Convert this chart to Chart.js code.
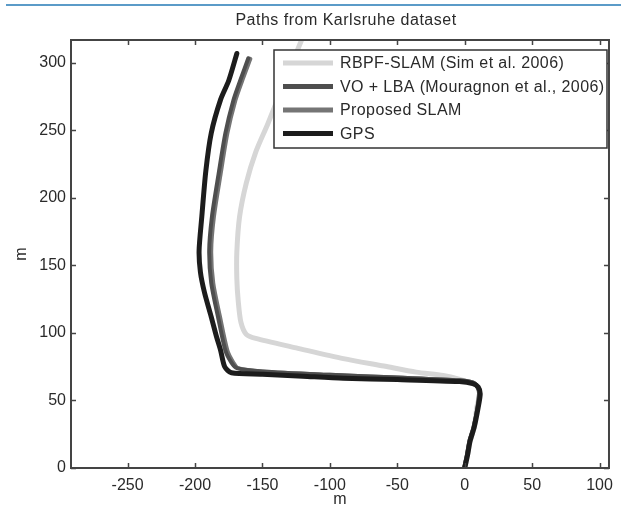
<!DOCTYPE html>
<html>
<head>
<meta charset="utf-8">
<script src="https://cdn.jsdelivr.net/npm/chart.js@4/dist/chart.umd.min.js"></script>
<style>
  html, body { margin: 0; padding: 0; background: #fff; }
  canvas { display: block; }
</style>
</head>
<body>
<canvas id="chart" width="621" height="511"></canvas>
<script>
// path samples (metres)
const gpsX = [-169, -175, -181, -188, -192, -195, -197, -196, -193, -188, -184, -181, -178, -173, -150, -120, -90, -50, -4, 6, 10, 11.5, 10, 7, 4, 2, 0];
const gpsY = [307, 287, 273, 248, 220, 186, 161, 145, 130, 112, 97, 87, 75, 70.5, 69.5, 68, 66.5, 65.5, 64, 62.5, 60, 55, 45, 30, 20, 9, 0];

const voX = [-160.5, -166.5, -171.5, -177.5, -182.5, -187.5, -189.5, -188, -183, -177.5, -173, -169, -150, -100, -50, -4, 7, 10.5, 9.5, 6.5, 3.5, 1.5, -0.5];
const voY = [303.5, 287, 272.5, 248, 218, 186, 161, 137, 112, 87, 78, 74, 71.5, 69, 67, 65, 63, 57, 45, 30, 20, 9, 0];

const slamX = [-159, -165, -170, -176, -181, -186, -188, -186.5, -181.5, -176, -171.5, -168, -150, -100, -50, -4, 7, 10.5, 9.5, 6.5, 3.5, 1.5, -0.5];
const slamY = [303, 287, 272.5, 248, 218, 186, 161, 137, 112, 87, 78, 74, 71.5, 69, 67, 65, 63, 57, 45, 30, 20, 9, 0];

const rbpfX = [0, 2, 4, 7, 9, 11, 9, -5, -16, -36, -60, -90, -125, -155, -162, -166, -168, -169, -169, -167, -162, -155, -146, -134, -121, -117];
const rbpfY = [0, 9, 20, 30, 45, 55, 61, 66, 68.5, 71, 75.5, 81, 89, 96, 99, 108, 124, 140, 160, 186, 211, 234, 255, 285, 317, 327];

const seriesNames = ["RBPF-SLAM (Sim et al. 2006)", "VO + LBA (Mouragnon et al., 2006)", "Proposed SLAM", "GPS"];
const seriesColors = ["#d6d6d6", "#4e4e4e", "#757575", "#1c1c1c"];

const xTicks = [-250, -200, -150, -100, -50, 0, 50, 100];
const yTicks = [0, 50, 100, 150, 200, 250, 300];

const FONT = "'Liberation Sans', Arial, Helvetica, sans-serif";
const TEXT = "#2a2a2a";

function pts(xs, ys) {
  return xs.map((x, i) => ({ x, y: ys[i] }));
}

function line(i, xs, ys, width, order) {
  return {
    label: seriesNames[i],
    data: pts(xs, ys),
    showLine: true,
    borderColor: seriesColors[i],
    backgroundColor: seriesColors[i],
    borderWidth: width,
    pointRadius: 0,
    pointHoverRadius: 0,
    tension: 0.25,
    borderJoinStyle: "round",
    borderCapStyle: "round",
    order,
  };
}

const decor = {
  id: "decor",
  afterDraw(chart) {
    const { ctx, chartArea: a, scales } = chart;
    const x = scales.x, y = scales.y;
    ctx.save();

    // blue rule at the top of the page
    ctx.strokeStyle = "#5b9bc8";
    ctx.lineWidth = 2;
    ctx.beginPath();
    ctx.moveTo(6, 5);
    ctx.lineTo(621, 5);
    ctx.stroke();

    // axes box with inward ticks
    ctx.strokeStyle = "#444";
    ctx.lineWidth = 2;
    ctx.strokeRect(a.left, a.top, a.right - a.left, a.bottom - a.top);
    ctx.lineWidth = 1.5;
    ctx.beginPath();
    xTicks.forEach((v) => {
      const px = Math.round(x.getPixelForValue(v)) + 0.5;
      ctx.moveTo(px, a.bottom);
      ctx.lineTo(px, a.bottom - 5);
      ctx.moveTo(px, a.top);
      ctx.lineTo(px, a.top + 5);
    });
    yTicks.forEach((v) => {
      const py = Math.round(y.getPixelForValue(v)) + 0.5;
      ctx.moveTo(a.left, py);
      ctx.lineTo(a.left + 5, py);
      ctx.moveTo(a.right, py);
      ctx.lineTo(a.right - 5, py);
    });
    ctx.stroke();

    // title and axis titles
    ctx.fillStyle = TEXT;
    ctx.font = "16px " + FONT;
    ctx.textAlign = "center";
    ctx.textBaseline = "middle";
    ctx.letterSpacing = "0.5px";
    ctx.fillText("Paths from Karlsruhe dataset", 346, 21);
    ctx.letterSpacing = "0px";
    ctx.fillText("m", (a.left + a.right) / 2, 500);
    ctx.save();
    ctx.translate(22, (a.top + a.bottom) / 2);
    ctx.rotate(-Math.PI / 2);
    ctx.fillText("m", 0, 0);
    ctx.restore();

    // legend box
    const lx = 274, ly = 50, lw = 333, lh = 98;
    ctx.fillStyle = "#fff";
    ctx.fillRect(lx, ly, lw, lh);
    ctx.strokeStyle = "#333";
    ctx.lineWidth = 1.5;
    ctx.strokeRect(lx, ly, lw, lh);
    ctx.textAlign = "left";
    ctx.font = "16px " + FONT;
    ctx.letterSpacing = "0.4px";
    seriesNames.forEach((name, i) => {
      const cy = 63 + i * 23.5;
      ctx.strokeStyle = seriesColors[i];
      ctx.lineWidth = 5;
      ctx.beginPath();
      ctx.moveTo(283, cy);
      ctx.lineTo(333, cy);
      ctx.stroke();
      ctx.fillStyle = TEXT;
      ctx.fillText(name, 340, cy + 1);
    });

    ctx.restore();
  },
};

new Chart(document.getElementById("chart"), {
  type: "scatter",
  data: {
    datasets: [
      line(0, rbpfX, rbpfY, 5, 4),
      line(1, voX, voY, 4, 2),
      line(2, slamX, slamY, 4, 3),
      line(3, gpsX, gpsY, 5, 1),
    ],
  },
  options: {
    responsive: false,
    animation: false,
    layout: { padding: { left: 0, top: 40, right: 6, bottom: 0 } },
    plugins: {
      legend: { display: false },
      title: { display: false },
      tooltip: { enabled: false },
    },
    scales: {
      x: {
        type: "linear",
        min: -292,
        max: 107,
        grid: { display: false, drawTicks: false },
        border: { display: false },
        afterFit: (s) => { s.height = 43; },
        afterBuildTicks: (s) => { s.ticks = xTicks.map((v) => ({ value: v })); },
        ticks: {
          autoSkip: false,
          maxRotation: 0,
          padding: 8,
          color: TEXT,
          font: { family: FONT, size: 16 },
          callback: (v) => String(v),
        },
      },
      y: {
        type: "linear",
        min: 0,
        max: 317,
        grid: { display: false, drawTicks: false },
        border: { display: false },
        afterFit: (s) => { s.width = 71; },
        afterBuildTicks: (s) => { s.ticks = yTicks.map((v) => ({ value: v })); },
        ticks: {
          autoSkip: false,
          padding: 5,
          color: TEXT,
          font: { family: FONT, size: 16 },
          callback: (v) => String(v),
        },
      },
    },
  },
  plugins: [decor],
});
</script>
</body>
</html>
